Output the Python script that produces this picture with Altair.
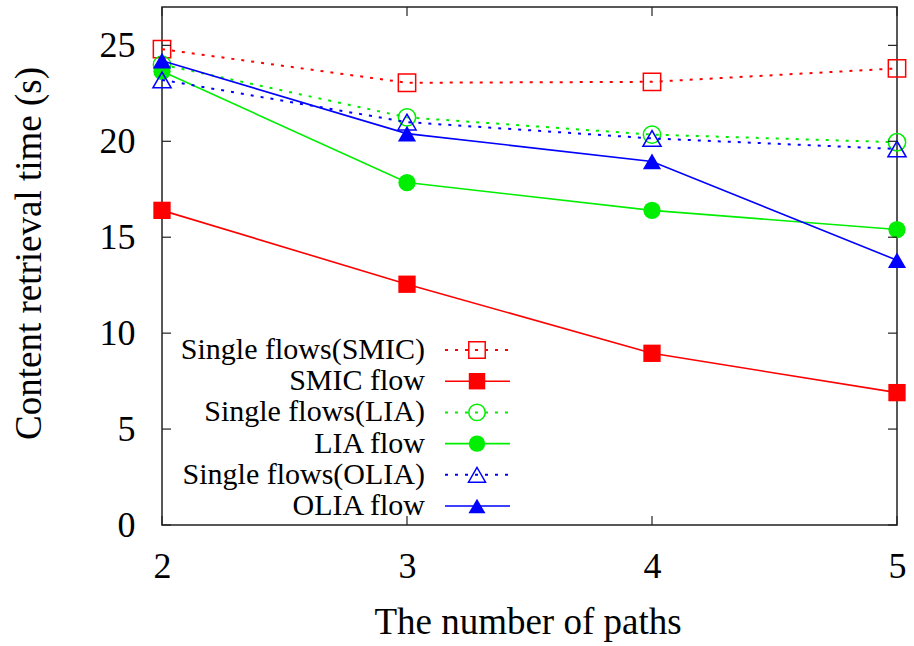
import altair as alt
import pandas as pd

FONT = "Liberation Serif"

paths = [2, 3, 4, 5]
single_smic = [24.8, 23.05, 23.1, 23.8]
smic_flow = [16.4, 12.55, 8.95, 6.9]
single_lia = [24.0, 21.25, 20.35, 19.95]
lia_flow = [23.65, 17.85, 16.4, 15.4]
single_olia = [23.2, 21.0, 20.15, 19.6]
olia_flow = [24.2, 20.4, 18.95, 13.8]

series_names = ["Single flows(SMIC)", "SMIC flow", "Single flows(LIA)",
                "LIA flow", "Single flows(OLIA)", "OLIA flow"]
series_values = [single_smic, smic_flow, single_lia, lia_flow, single_olia, olia_flow]
series_colors = ["#ff0000", "#ff0000", "#00ee00", "#00ee00", "#0000ff", "#0000ff"]
series_shapes = ["square", "square", "circle", "circle", "triangle-up", "triangle-up"]
series_filled = [False, True, False, True, False, True]

y_ticks = [0, 5, 10, 15, 20, 25]
x_ticks = [2, 3, 4, 5]

W, H = 735, 518

xscale = alt.Scale(domain=[2, 5], nice=False)
yscale = alt.Scale(domain=[0, 27], nice=False)

xaxis = alt.Axis(values=x_ticks, format="d", grid=False, domain=False, ticks=False,
                 labelFont=FONT, labelFontSize=36, labelColor="black",
                 labelBaseline="alphabetic", labelPadding=52, labelFlush=False,
                 title="The number of paths", titleFont=FONT, titleFontSize=37,
                 titleFontWeight="normal", titleColor="black",
                 titleBaseline="alphabetic", titleY=108, titleX=W / 2 - 2)
yaxis = alt.Axis(values=y_ticks, format="d", grid=False, domain=False, ticks=False,
                 labelFont=FONT, labelFontSize=36, labelColor="black",
                 labelBaseline="middle", labelPadding=27, labelFlush=False,
                 title="Content retrieval time (s)", titleFont=FONT, titleFontSize=37,
                 titleFontWeight="normal", titleColor="black",
                 titleAngle=-90, titleAlign="center", titleBaseline="middle",
                 titleX=-133, titleY=246)


def X(field):
    return alt.X(field, scale=xscale, axis=xaxis)


def Y(field):
    return alt.Y(field, scale=yscale, axis=yaxis)


layers = []
for name, vals, col, shp, filled in zip(series_names, series_values, series_colors,
                                         series_shapes, series_filled):
    df = pd.DataFrame({"paths": paths, "time": vals, "series": name})
    size = 300 if shp != "triangle-up" else 330
    if filled:
        line = alt.Chart(df).mark_line(color=col, strokeWidth=1.6)
        pts = alt.Chart(df).mark_point(shape=shp, filled=True, fill=col,
                                       strokeWidth=0, opacity=1, size=size)
    else:
        line = alt.Chart(df).mark_line(color=col, strokeWidth=2, strokeDash=[3, 7])
        pts = alt.Chart(df).mark_point(shape=shp, filled=False, color=col,
                                       strokeWidth=1.5, opacity=1, size=size)
    layers.append(line.encode(x=X("paths:Q"), y=Y("time:Q")))
    layers.append(pts.encode(x=X("paths:Q"), y=Y("time:Q")))

# inward tick marks (gnuplot style, mirrored)
ytd = pd.DataFrame({"v": y_ticks})
xtd = pd.DataFrame({"v": x_ticks})
tick_col = "#222222"
layers.append(alt.Chart(ytd).mark_rule(color=tick_col, strokeWidth=1.2).encode(
    y=Y("v:Q"), x=alt.value(0), x2=alt.value(9)))
layers.append(alt.Chart(ytd).mark_rule(color=tick_col, strokeWidth=1.2).encode(
    y=Y("v:Q"), x=alt.value(W - 9), x2=alt.value(W)))
layers.append(alt.Chart(xtd).mark_rule(color=tick_col, strokeWidth=1.2).encode(
    x=X("v:Q"), y=alt.value(H), y2=alt.value(H - 9)))
layers.append(alt.Chart(xtd).mark_rule(color=tick_col, strokeWidth=1.2).encode(
    x=X("v:Q"), y=alt.value(0), y2=alt.value(9)))

# custom gnuplot-style legend (text, then line sample with symbol)
leg_text_right = 425 - 162
leg_line_x1, leg_line_x2, leg_sym_x = 445 - 162, 510 - 162, 477 - 162
row0, row_step = 350 - 7, 31.2
for i, (name, col, shp, filled) in enumerate(zip(series_names, series_colors,
                                                  series_shapes, series_filled)):
    yy = row0 + i * row_step
    ldf = pd.DataFrame({"label": [name]})
    size = 270 if shp != "triangle-up" else 290
    layers.append(alt.Chart(ldf).mark_text(align="right", baseline="middle",
                                           font=FONT, fontSize=30, color="black").encode(
        text="label:N", x=alt.value(leg_text_right), y=alt.value(yy)))
    if filled:
        rl = alt.Chart(ldf).mark_rule(color=col, strokeWidth=1.6)
        sp = alt.Chart(ldf).mark_point(shape=shp, filled=True, fill=col, strokeWidth=0,
                                       opacity=1, size=size)
    else:
        rl = alt.Chart(ldf).mark_rule(color=col, strokeWidth=2, strokeDash=[3, 7])
        sp = alt.Chart(ldf).mark_point(shape=shp, filled=False, color=col, strokeWidth=1.5,
                                       opacity=1, size=size)
    layers.append(rl.encode(x=alt.value(leg_line_x1), x2=alt.value(leg_line_x2),
                            y=alt.value(yy)))
    layers.append(sp.encode(x=alt.value(leg_sym_x), y=alt.value(yy)))

chart = alt.layer(*layers).properties(
    width=W, height=H,
    autosize=alt.AutoSizeParams(type="none"),
    padding={"left": 162, "top": 7, "right": 914 - 162 - W, "bottom": 646 - 7 - H},
).configure(
    background="white",
    view=alt.ViewConfig(stroke="#222222", strokeWidth=1.5),
)

chart.save("out.html", embed_options={"renderer": "svg", "actions": False})
